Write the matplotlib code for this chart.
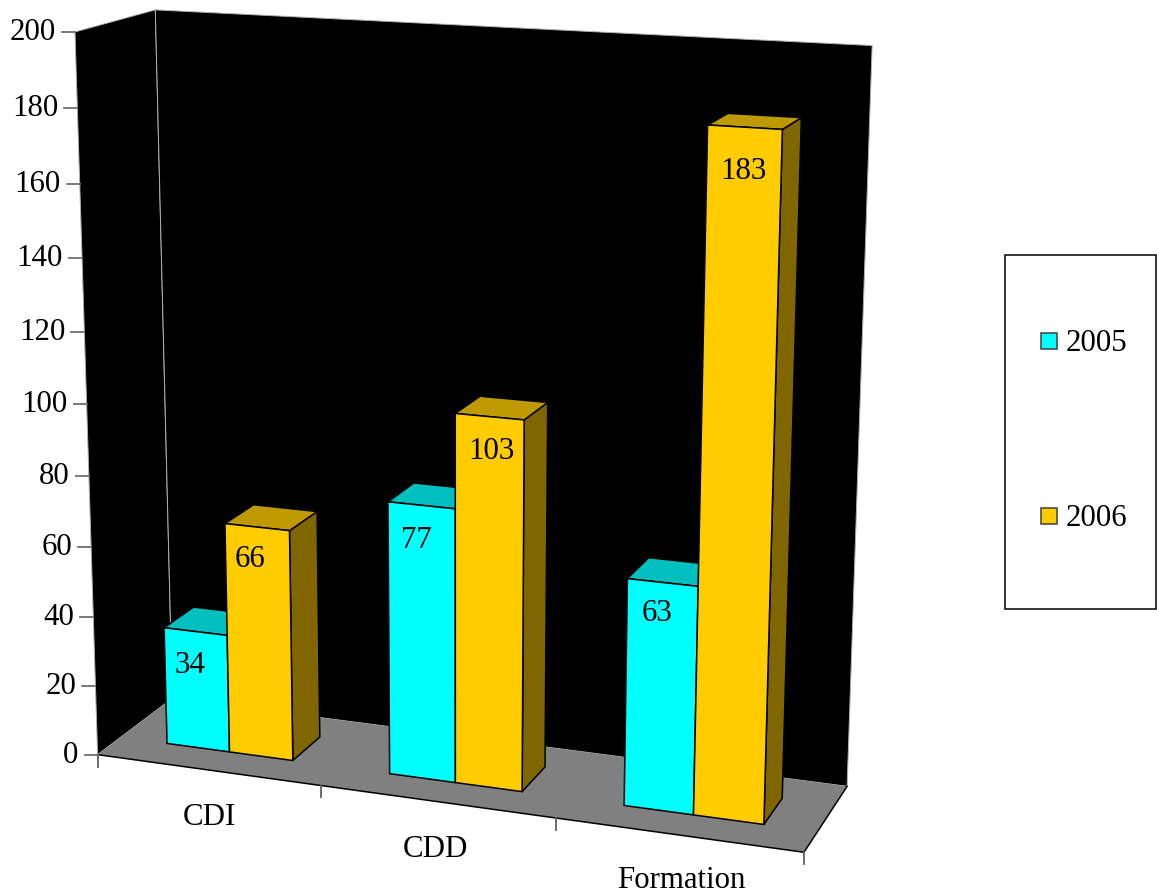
import numpy as np
import matplotlib
matplotlib.use('Agg')
import matplotlib.pyplot as plt
from matplotlib.patches import Polygon, Rectangle

plt.rcParams['font.family'] = ['Liberation Serif', 'DejaVu Serif']

categories = ['CDI', 'CDD', 'Formation']
series_names = ['2005', '2006']
values_2005 = [34, 77, 63]
values_2006 = [66, 103, 183]
tick_vals = [0, 20, 40, 60, 80, 100, 120, 140, 160, 180, 200]

# where the chart frame sits in the picture, used to fit the perspective
tick_y = [755, 686, 617, 547, 476, 404, 331, 257, 182, 107, 33]
frame_pts = [((0, 0, 0), (98, 755)), ((3, 0, 0), (804, 853)), ((3, 1, 0), (847, 785)),
             ((0, 1, 0), (172, 699)), ((0, 1, 200), (155, 10)), ((3, 1, 200), (873, 46)),
             ((1, 0, 0), (320, 786)), ((2, 0, 0), (555, 818)),
             ((0, 0, 200), (74.5, 33)), ((0, 0, 200), (74.5, 33))]
for v, y in zip(tick_vals, tick_y):
    frame_pts.append(((0, 0, v), (98 - 23 * (755 - y) / 721, y)))

rows = []
for (u, d, v), (x, y) in frame_pts:
    X = [u / 3, d, v / 200, 1]
    rows.append(X + [0, 0, 0, 0] + [-x * a for a in X])
    rows.append([0, 0, 0, 0] + X + [-y * a for a in X])
P = np.linalg.svd(np.array(rows))[2][-1].reshape(3, 4)


def proj(u, d, v):
    p = P @ np.array([u / 3, d, v / 200, 1])
    return p[0] / p[2], p[1] / p[2]


fig = plt.figure(figsize=(11.57, 8.94), dpi=100)
ax = fig.add_axes([0, 0, 1, 1])
ax.set_xlim(0, 1157)
ax.set_ylim(894, 0)
ax.axis('off')

font_size = 22.2
text_shift = 2.5


def face(pts, color, z, edge='black', lw=1.1):
    ax.add_patch(Polygon([proj(*p) for p in pts], closed=True, facecolor=color,
                         edgecolor=edge, linewidth=lw, zorder=z, joinstyle='miter'))


# walls and floor
face([(0, 0, 0), (0, 1, 0), (0, 1, 200), (0, 0, 200)], 'black', 1, edge='#b0b0b0', lw=0.7)
face([(0, 1, 0), (3, 1, 0), (3, 1, 200), (0, 1, 200)], 'black', 1, edge='#b0b0b0', lw=0.7)
face([(0, 0, 0), (3, 0, 0), (3, 1, 0), (0, 1, 0)], '#808080', 2, edge='none', lw=0)
for a, b in [((0, 0, 0), (3, 0, 0)), ((3, 0, 0), (3, 1, 0))]:
    ax.plot(*zip(proj(*a), proj(*b)), color='black', lw=1.1, zorder=3)

# y ticks
for v in tick_vals:
    x, y = proj(0, 0, v)
    ax.plot([x - 13, x], [y, y], color='#707070', lw=1.3, zorder=3)
    ax.text(x - 19, y - 2 + text_shift, str(v), ha='right', va='center',
            fontsize=font_size, color='black')

# category ticks and labels
for i in range(4):
    x, y = proj(i, 0, 0)
    ax.plot([x, x], [y, y + 12], color='#606060', lw=1.3, zorder=3)
cat_off = [(2, 0), (-1, 0), (3, -2)]
for i, name in enumerate(categories):
    x, y = proj(i + 0.5, 0, 0)
    ax.text(x + cat_off[i][0], y + 45 + text_shift + cat_off[i][1], name, ha='center', va='center',
            fontsize=font_size, color='black')

# bars
d0, d1 = 0.3, 0.7
bar_w = 2 / 7
bar_start = 1.5 / 7
colors = [('#00FFFF', '#00BFBF', '#008080'), ('#FFCC00', '#BF9900', '#806600')]
label_off = [[(-6, 31), (-5, 33), (-6, 29)], [(-7, 30), (2, 32), (-1, 42)]]

z = 10
for s, vals in enumerate([values_2005, values_2006]):
    front, top, side = colors[s]
    for i, v in enumerate(vals):
        a = i + bar_start + s * bar_w
        b = a + bar_w
        face([(b, d0, 0), (b, d1, 0), (b, d1, v), (b, d0, v)], side, z)
        face([(a, d0, v), (b, d0, v), (b, d1, v), (a, d1, v)], top, z)
        face([(a, d0, 0), (b, d0, 0), (b, d0, v), (a, d0, v)], front, z)
        x, y = proj((a + b) / 2, d0, v)
        ox, oy = label_off[s][i]
        ax.text(x + ox, y + oy + text_shift, str(v), ha='center', va='center',
                fontsize=font_size, color='black', zorder=z + 1)
    z += 2

# legend box
ax.add_patch(Rectangle((1005, 255), 151, 354, facecolor='white', edgecolor='black', linewidth=1.1))
for name, col, y in zip(series_names, ['#00FFFF', '#FFCC00'], [341, 516]):
    ax.add_patch(Rectangle((1041, y - 8), 16, 16, facecolor=col, edgecolor='#404040', linewidth=1.1))
    ax.text(1066, y + text_shift, name, ha='left', va='center', fontsize=font_size, color='black')

fig.savefig('out.png', dpi=100)
